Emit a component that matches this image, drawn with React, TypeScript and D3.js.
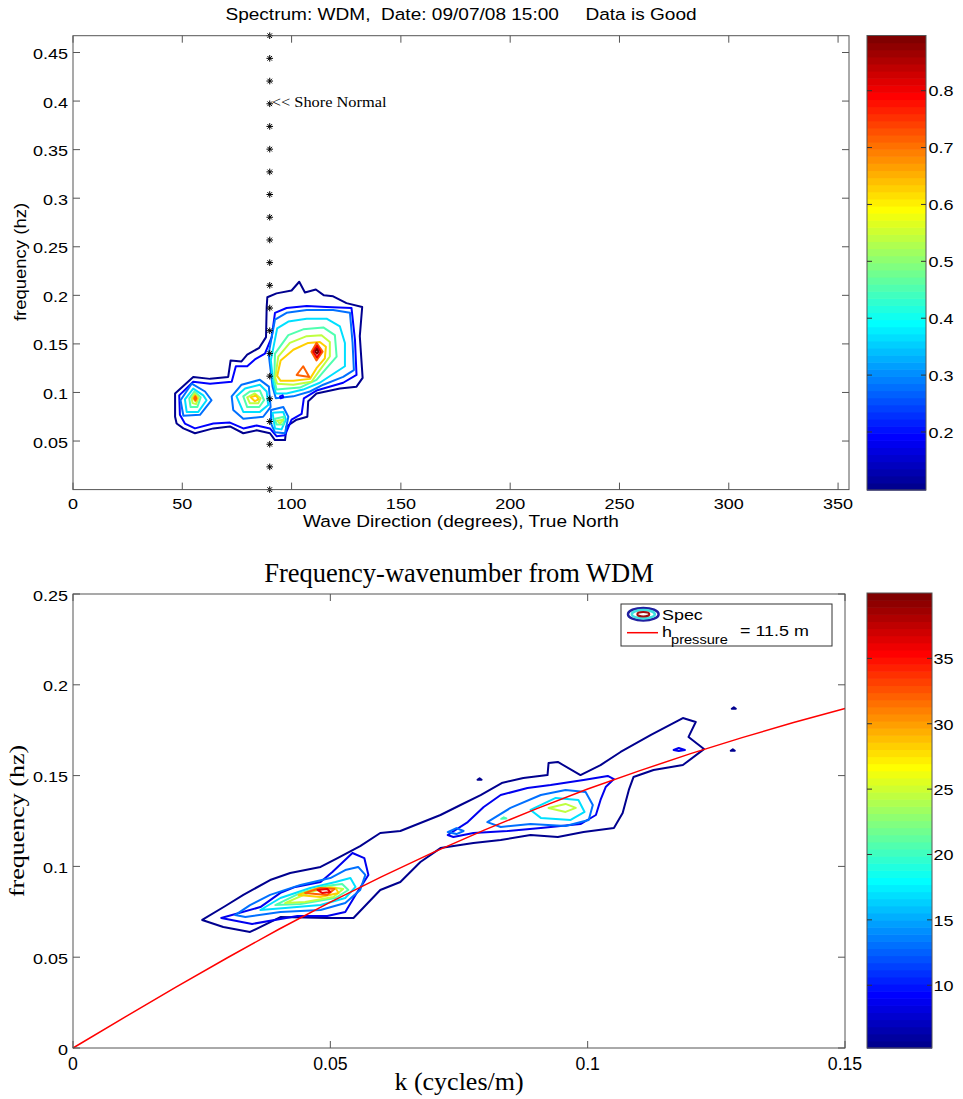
import React from 'react';
import * as d3 from 'd3';

type Pt = [number, number];

// ---------- Top panel data ----------
const topTitle = 'Spectrum: WDM,  Date: 09/07/08 15:00     Data is Good';
const topXTicks = [0, 50, 100, 150, 200, 250, 300, 350];
const topYTicks = [0.05, 0.1, 0.15, 0.2, 0.25, 0.3, 0.35, 0.4, 0.45];
const topCbarTicks = [0.2, 0.3, 0.4, 0.5, 0.6, 0.7, 0.8];
const topCLim: Pt = [0.098, 0.897];
const topLevels = [0.098, 0.187, 0.276, 0.364, 0.453, 0.542, 0.631, 0.72, 0.808, 0.897];
const shoreNormalDir = 90;
const starFreqs = [0, 0.0234, 0.0467, 0.0701, 0.0935, 0.1168, 0.1402, 0.1636, 0.1869, 0.2103, 0.2337,
  0.257, 0.2804, 0.3038, 0.3271, 0.3505, 0.3739, 0.3972, 0.4206, 0.444, 0.4673];

// contour rings: level index + points [direction deg, frequency hz]
const topRingLevel = [0, 1, 2, 3, 4, 5, 6, 7, 2, 3, 4, 5, 6, 2, 3, 4, 5, 2, 3, 4, 5, 6, 7, 7, 8, 9, 1];
const topRingPts: Pt[][] = [
  [[46.7,0.075],[46.7,0.099],[55.0,0.116],[62.7,0.114],[71.0,0.116],[72.1,0.133],[77.1,0.132],[79.7,0.139],[85.2,0.146],[88.3,0.157],[88.6,0.188],[88.9,0.198],[93.1,0.202],[100.0,0.205],[103.5,0.214],[106.1,0.203],[111.1,0.206],[114.8,0.200],[119.0,0.199],[125.1,0.192],[132.3,0.188],[131.2,0.158],[132.5,0.115],[129.7,0.106],[122.1,0.104],[111.4,0.099],[107.6,0.091],[107.2,0.075],[102.3,0.072],[97.7,0.065],[97.0,0.051],[92.4,0.051],[90.1,0.058],[84.0,0.061],[77.9,0.058],[71.8,0.065],[64.2,0.063],[55.8,0.058],[50.5,0.063],[47.4,0.068]],
  [[48.9,0.077],[48.6,0.097],[55.0,0.111],[62.7,0.109],[72.6,0.111],[74.5,0.127],[79.7,0.127],[83.2,0.134],[87.8,0.140],[90.9,0.157],[92.4,0.182],[97.7,0.187],[106.9,0.189],[116.0,0.188],[127.4,0.187],[129.0,0.154],[129.7,0.118],[123.6,0.110],[111.4,0.102],[105.6,0.094],[104.6,0.078],[100.0,0.072],[97.0,0.056],[93.1,0.055],[90.1,0.063],[84.0,0.066],[77.9,0.063],[71.8,0.069],[64.2,0.068],[55.8,0.063],[51.2,0.068]],
  // left lobe
  [[49.2,0.092],[54.3,0.109],[60.4,0.101],[63.4,0.092],[58.1,0.077],[50.5,0.076]],
  [[51.2,0.093],[55.0,0.104],[59.6,0.097],[61.1,0.092],[57.3,0.080],[52.0,0.080]],
  [[53.2,0.094],[55.5,0.101],[58.4,0.095],[56.9,0.085],[53.8,0.085]],
  [[54.3,0.094],[55.6,0.099],[57.5,0.095],[56.3,0.088],[54.7,0.089]],
  [[55.0,0.094],[55.8,0.097],[56.9,0.094],[56.0,0.091]],
  [[55.5,0.094],[56.0,0.096],[56.4,0.094],[56.0,0.092]],
  // middle lobe
  [[72.6,0.096],[77.1,0.108],[85.5,0.113],[89.6,0.106],[90.4,0.085],[87.0,0.075],[77.9,0.073],[73.3,0.082]],
  [[74.8,0.096],[78.7,0.104],[85.5,0.108],[88.6,0.101],[89.3,0.087],[85.5,0.080],[77.9,0.080]],
  [[77.9,0.096],[80.9,0.101],[85.5,0.102],[87.4,0.092],[85.2,0.085],[79.7,0.085]],
  [[79.7,0.095],[83.2,0.099],[85.8,0.094],[84.8,0.089],[80.9,0.089]],
  [[81.3,0.095],[83.7,0.097],[84.9,0.093],[83.2,0.091]],
  // low lobe
  [[90.6,0.082],[96.2,0.085],[98.5,0.075],[97.0,0.058],[92.4,0.059],[90.6,0.068]],
  [[91.3,0.079],[96.2,0.080],[97.4,0.072],[95.4,0.062],[92.4,0.063]],
  [[92.4,0.073],[96.5,0.075],[96.2,0.067],[93.1,0.067]],
  [[93.4,0.071],[96.2,0.072],[94.7,0.068]],
  // main lobe
  [[89.5,0.140],[92.4,0.175],[97.7,0.182],[106.9,0.185],[119.0,0.185],[126.7,0.182],[127.9,0.151],[128.5,0.123],[123.6,0.116],[114.5,0.108],[108.4,0.101],[100.8,0.096],[92.8,0.094],[91.3,0.106]],
  [[90.5,0.133],[93.4,0.166],[98.5,0.173],[106.9,0.176],[116.0,0.176],[122.1,0.168],[124.4,0.151],[124.4,0.127],[119.0,0.119],[112.9,0.110],[105.3,0.103],[97.7,0.099],[92.8,0.099],[91.6,0.110]],
  [[92.1,0.113],[92.4,0.140],[98.5,0.159],[105.3,0.165],[114.5,0.167],[119.8,0.159],[120.6,0.137],[116.0,0.125],[111.4,0.113],[103.8,0.105],[93.1,0.103]],
  [[92.5,0.115],[93.9,0.137],[99.2,0.151],[106.9,0.158],[113.7,0.159],[117.5,0.152],[117.5,0.137],[112.9,0.123],[109.1,0.111],[100.8,0.108],[93.4,0.109]],
  [[93.4,0.117],[95.0,0.133],[100.8,0.144],[107.6,0.151],[112.9,0.152],[115.7,0.147],[115.2,0.135],[111.4,0.125],[108.4,0.114],[100.8,0.112],[95.0,0.112]],
  [[102.3,0.118],[105.3,0.127],[108.1,0.116]],
  [[109.1,0.142],[111.4,0.151],[114.2,0.142],[111.4,0.133]],
  [[109.9,0.142],[111.6,0.148],[113.3,0.142],[111.6,0.136]],
  [[110.8,0.142],[111.6,0.145],[112.3,0.142],[111.6,0.140]],
  [[94.7,0.096],[95.9,0.097],[96.2,0.095],[95.0,0.094]],
];

// ---------- Bottom panel data ----------
const botTitle = 'Frequency-wavenumber from WDM';
const botXTicks = [0, 0.05, 0.1, 0.15];
const botXTickLabels = ['0', '0.05', '0.1', '0.15'];
const botYTicks = [0, 0.05, 0.1, 0.15, 0.2, 0.25];
const botYTickLabels = ['0', '0.05', '0.1', '0.15', '0.2', '0.25'];
const botCbarTicks = [10, 15, 20, 25, 30, 35];
const botCLim: Pt = [5.2, 40];
const botLevels = [5.2, 9.0, 12.9, 16.8, 20.6, 24.5, 28.4, 32.2, 36.1, 40];
const dispK = [0, 0.01, 0.02, 0.03, 0.04, 0.05, 0.06, 0.07, 0.08, 0.09, 0.1, 0.11, 0.12, 0.13, 0.14, 0.15];
const dispF = [0, 0.0169, 0.0335, 0.0497, 0.0654, 0.0803, 0.0944, 0.1077, 0.1201, 0.1317, 0.1426, 0.1526, 0.1621, 0.1709, 0.1792, 0.187];
const depthLabel = '= 11.5 m';

const botRingLevel = [0, 1, 1, 2, 3, 4, 5, 6, 7, 8, 2, 3, 5, 2, 4, 1, 0, 0, 0];
const botRingPts: Pt[][] = [
  [[0.0251,0.0705],[0.0296,0.0782],[0.0331,0.0843],[0.0383,0.0925],[0.0422,0.0964],[0.0481,0.0997],[0.0514,0.1046],[0.0558,0.1112],[0.0597,0.1184],[0.0636,0.1195],[0.0675,0.1239],[0.0714,0.1283],[0.0753,0.1338],[0.0792,0.1393],[0.0833,0.1459],[0.0875,0.1487],[0.0922,0.1503],[0.0924,0.1569],[0.0942,0.1575],[0.0986,0.1503],[0.1025,0.1558],[0.1064,0.1630],[0.1123,0.1724],[0.1185,0.1817],[0.1210,0.1795],[0.1196,0.1713],[0.1226,0.1646],[0.1185,0.1558],[0.1128,0.1531],[0.1089,0.1492],[0.1080,0.1421],[0.1068,0.1294],[0.1051,0.1211],[0.0992,0.1189],[0.0942,0.1162],[0.0889,0.1173],[0.0831,0.1145],[0.0778,0.1129],[0.0714,0.1101],[0.0675,0.1024],[0.0636,0.0914],[0.0597,0.0870],[0.0545,0.0716],[0.0494,0.0716],[0.0403,0.0721],[0.0344,0.0639],[0.0292,0.0666]],
  [[0.0288,0.0716],[0.0364,0.0776],[0.0403,0.0854],[0.0432,0.0887],[0.0481,0.0914],[0.0504,0.0969],[0.0543,0.1074],[0.0566,0.1046],[0.0574,0.0953],[0.0549,0.0843],[0.0529,0.0749],[0.0494,0.0727],[0.0436,0.0727],[0.0348,0.0683]],
  [[0.0728,0.1173],[0.0767,0.1244],[0.0798,0.1327],[0.0831,0.1393],[0.0883,0.1432],[0.0928,0.1448],[0.0992,0.1476],[0.1039,0.1498],[0.1051,0.1481],[0.1035,0.1437],[0.1025,0.1366],[0.1016,0.1283],[0.0986,0.1233],[0.0909,0.1211],[0.0844,0.1195],[0.0778,0.1184],[0.0739,0.1162]],
  [[0.0315,0.0732],[0.0344,0.0787],[0.0383,0.0843],[0.0442,0.0898],[0.0500,0.0936],[0.0529,0.0980],[0.0554,0.0997],[0.0568,0.0953],[0.0558,0.0870],[0.0529,0.0798],[0.0481,0.0760],[0.0403,0.0749],[0.0335,0.0721]],
  [[0.0364,0.0760],[0.0403,0.0826],[0.0461,0.0881],[0.0510,0.0914],[0.0539,0.0936],[0.0549,0.0887],[0.0529,0.0826],[0.0481,0.0787],[0.0412,0.0771]],
  [[0.0393,0.0787],[0.0442,0.0854],[0.0490,0.0892],[0.0523,0.0903],[0.0535,0.0870],[0.0510,0.0826],[0.0442,0.0793]],
  [[0.0412,0.0798],[0.0461,0.0859],[0.0500,0.0887],[0.0525,0.0876],[0.0506,0.0831],[0.0451,0.0804]],
  [[0.0438,0.0843],[0.0477,0.0881],[0.0510,0.0881],[0.0516,0.0854],[0.0481,0.0831]],
  [[0.0451,0.0854],[0.0481,0.0881],[0.0508,0.0876],[0.0494,0.0843]],
  [[0.0475,0.0870],[0.0494,0.0876],[0.0500,0.0859],[0.0484,0.0854]],
  [[0.0805,0.1244],[0.0850,0.1322],[0.0909,0.1393],[0.0957,0.1421],[0.0996,0.1410],[0.1010,0.1338],[0.1002,0.1256],[0.0957,0.1222],[0.0889,0.1233],[0.0831,0.1217]],
  [[0.0889,0.1311],[0.0938,0.1377],[0.0982,0.1366],[0.0994,0.1300],[0.0967,0.1256],[0.0909,0.1267]],
  [[0.0924,0.1322],[0.0957,0.1344],[0.0977,0.1322],[0.0957,0.1300]],
  [[0.0728,0.1189],[0.0745,0.1211],[0.0759,0.1195],[0.0745,0.1178]],
  [[0.0832,0.1262],[0.0837,0.1270],[0.0842,0.1264]],
  [[0.1167,0.1641],[0.1177,0.1652],[0.1189,0.1641],[0.1177,0.1635]],
  [[0.1280,0.1868],[0.1284,0.1876],[0.1288,0.1868]],
  [[0.1278,0.1637],[0.1282,0.1645],[0.1286,0.1637]],
  [[0.0786,0.1477],[0.0790,0.1485],[0.0794,0.1477]],
];

// ---------- helpers ----------
const SX = 1.17;
function ju(j: number) {
  if (j < 1 || j > 47) return 0;
  if (j <= 16) return j / 16;
  if (j <= 31) return 1;
  return (48 - j) / 16;
}
function jetIdx(i: number) {
  const r = ju(i - 24), g = ju(i - 8), b = ju(i + 8);
  return d3.rgb(r * 255, g * 255, b * 255).toString();
}
function jetColor(v: number, lim: Pt) {
  let i = Math.floor(((v - lim[0]) / (lim[1] - lim[0])) * 64) + 1;
  i = Math.max(1, Math.min(64, i));
  return jetIdx(i);
}

const ARIAL = 'Arial, "Liberation Sans", Helvetica, sans-serif';
const TIMES = '"Times New Roman", "Liberation Serif", Times, serif';

function STxt(p: { x: number; y: number; size: number; family?: string; anchor?: string; rot?: boolean; sx?: number; children: React.ReactNode }) {
  const sx = p.sx ?? SX;
  const tr = `translate(${p.x},${p.y}) scale(${sx},1)` + (p.rot ? ' rotate(-90)' : '');
  return (
    <text transform={tr} fontSize={p.size} fontFamily={p.family ?? ARIAL} textAnchor={(p.anchor ?? 'start') as any} fill="#000" style={{ whiteSpace: 'pre' }}>
      {p.children}
    </text>
  );
}

function Colorbar({ x0, x1, y0, y1, lim, ticks, labelX, fmt }: { x0: number; x1: number; y0: number; y1: number; lim: Pt; ticks: number[]; labelX: number; fmt: (v: number) => string }) {
  const s = d3.scaleLinear().domain(lim).range([y1, y0]);
  const cells = d3.range(64);
  const h = (y1 - y0) / 64;
  return (
    <g>
      {cells.map((i) => (
        <rect key={i} x={x0} y={y1 - (i + 1) * h} width={x1 - x0} height={h + 0.6} fill={jetIdx(i + 1)} />
      ))}
      <rect x={x0} y={y0} width={x1 - x0} height={y1 - y0} fill="none" stroke="#555" strokeWidth={1} />
      {ticks.map((t) => (
        <g key={t}>
          <line x1={x1 - 5} x2={x1} y1={s(t)} y2={s(t)} stroke="#333" strokeWidth={1} />
          <line x1={x0} x2={x0 + 5} y1={s(t)} y2={s(t)} stroke="#333" strokeWidth={1} />
          <STxt x={labelX} y={s(t) + 5.8} size={15.4}>{fmt(t)}</STxt>
        </g>
      ))}
    </g>
  );
}

function Frame({ x, y, xt, yt, tl }: { x: d3.ScaleLinear<number, number>; y: d3.ScaleLinear<number, number>; xt: number[]; yt: number[]; tl: number }) {
  const [xa, xb] = x.range();
  const [ya, yb] = y.range();
  return (
    <g stroke="#555" strokeWidth={1} fill="none">
      <rect x={xa} y={yb} width={xb - xa} height={ya - yb} />
      {xt.map((t) => (
        <g key={'x' + t}>
          <line x1={x(t)} x2={x(t)} y1={ya} y2={ya - tl} />
          <line x1={x(t)} x2={x(t)} y1={yb} y2={yb + tl} />
        </g>
      ))}
      {yt.map((t) => (
        <g key={'y' + t}>
          <line x1={xa} x2={xa + tl} y1={y(t)} y2={y(t)} />
          <line x1={xb} x2={xb - tl} y1={y(t)} y2={y(t)} />
        </g>
      ))}
    </g>
  );
}

export default function App() {
  // top panel scales
  const tx = d3.scaleLinear().domain([0, 355]).range([73, 849]);
  const ty = d3.scaleLinear().domain([0, 0.4673]).range([489.6, 35.7]);
  // bottom panel scales
  const bx = d3.scaleLinear().domain([0, 0.15]).range([73, 845]);
  const by = d3.scaleLinear().domain([0, 0.25]).range([1048, 594]);

  const topLine = d3.line<Pt>().x((d) => tx(d[0])).y((d) => ty(d[1])).curve(d3.curveLinearClosed);
  const botLine = d3.line<Pt>().x((d) => bx(d[0])).y((d) => by(d[1])).curve(d3.curveLinearClosed);
  const dispLine = d3.line<number>().x((_, i) => bx(dispK[i])).y((d) => by(d));

  return (
    <svg width={963} height={1099} style={{ position: 'absolute', left: 0, top: 0, background: '#fff' }}>
      <rect x={0} y={0} width={963} height={1099} fill="#fff" />

      {/* ===== TOP PANEL ===== */}
      <STxt x={461} y={20} size={16.3} anchor="middle">{topTitle}</STxt>
      {topRingPts.map((pts, i) => (
        <path key={i} d={topLine(pts) ?? ''} fill="none" stroke={jetColor(topLevels[topRingLevel[i]], topCLim)} strokeWidth={2} strokeLinejoin="round" />
      ))}
      {starFreqs.map((f, i) => {
        const cx = tx(shoreNormalDir), cy = ty(f), r = 3.3;
        return (
          <g key={i} stroke="#000" strokeWidth={1}>
            <line x1={cx - r} x2={cx + r} y1={cy} y2={cy} />
            <line x1={cx} x2={cx} y1={cy - r} y2={cy + r} />
            <line x1={cx - r * 0.7} x2={cx + r * 0.7} y1={cy - r * 0.7} y2={cy + r * 0.7} />
            <line x1={cx - r * 0.7} x2={cx + r * 0.7} y1={cy + r * 0.7} y2={cy - r * 0.7} />
          </g>
        );
      })}
      <STxt x={tx(shoreNormalDir) + 2} y={ty(0.4) + 6} size={14} family={TIMES}>{'<< Shore Normal'}</STxt>
      <Frame x={tx} y={ty} xt={topXTicks} yt={topYTicks} tl={7} />
      {topXTicks.map((t) => (
        <STxt key={t} x={tx(t)} y={509} size={15.4} anchor="middle">{String(t)}</STxt>
      ))}
      {topYTicks.map((t) => (
        <STxt key={t} x={68} y={ty(t) + 6.5} size={15.4} anchor="end">{String(t)}</STxt>
      ))}
      <STxt x={461} y={527} size={16.3} anchor="middle">Wave Direction (degrees), True North</STxt>
      <STxt x={26} y={262} size={18.5} anchor="middle" rot sx={0.85}>frequency (hz)</STxt>
      <Colorbar x0={867} x1={926} y0={35.5} y1={490} lim={topCLim} ticks={topCbarTicks} labelX={928.5} fmt={(v) => String(v)} />

      {/* ===== BOTTOM PANEL ===== */}
      <STxt x={459} y={582} size={26.5} family={TIMES} anchor="middle" sx={1}>{botTitle}</STxt>
      {botRingPts.map((pts, i) => (
        <path key={i} d={botLine(pts) ?? ''} fill="none" stroke={jetColor(botLevels[botRingLevel[i]], botCLim)} strokeWidth={2} strokeLinejoin="round" />
      ))}
      <path d={dispLine(dispF) ?? ''} fill="none" stroke="#ff0000" strokeWidth={1.5} />
      <Frame x={bx} y={by} xt={botXTicks} yt={botYTicks} tl={7} />
      {botXTicks.map((t, i) => (
        <STxt key={t} x={bx(t)} y={1070} size={19} anchor="middle" sx={0.93}>{botXTickLabels[i]}</STxt>
      ))}
      {botYTicks.map((t, i) => (
        <STxt key={t} x={68} y={by(t) + 6.5} size={15.4} anchor="end">{botYTickLabels[i]}</STxt>
      ))}
      <STxt x={459} y={1090} size={26} family={TIMES} anchor="middle" sx={1}>k (cycles/m)</STxt>
      <STxt x={24} y={821} size={26} family={TIMES} anchor="middle" rot sx={0.8}>frequency (hz)</STxt>

      {/* legend */}
      <rect x={621} y={604} width={211} height={42} fill="#fff" stroke="#333" strokeWidth={1} />
      <ellipse cx={643.3} cy={614.2} rx={15.3} ry={6.3} fill="none" stroke="#2020a0" strokeWidth={2.5} />
      <ellipse cx={643.3} cy={614.2} rx={11.5} ry={4.2} fill="none" stroke="#40e0e0" strokeWidth={2.5} />
      <ellipse cx={643.3} cy={614.2} rx={6} ry={2.2} fill="none" stroke="#a01010" strokeWidth={2} />
      <STxt x={662} y={620} size={15.3}>Spec</STxt>
      <line x1={627} x2={658} y1={632.7} y2={632.7} stroke="#ff0000" strokeWidth={1.5} />
      <STxt x={662} y={637} size={15.3}>h</STxt>
      <STxt x={671} y={643.5} size={12.5}>pressure</STxt>
      <STxt x={740} y={636} size={15.3}>{depthLabel}</STxt>

      <Colorbar x0={867} x1={932} y0={593} y1={1048} lim={botCLim} ticks={botCbarTicks} labelX={933.5} fmt={(v) => String(v)} />
    </svg>
  );
}
